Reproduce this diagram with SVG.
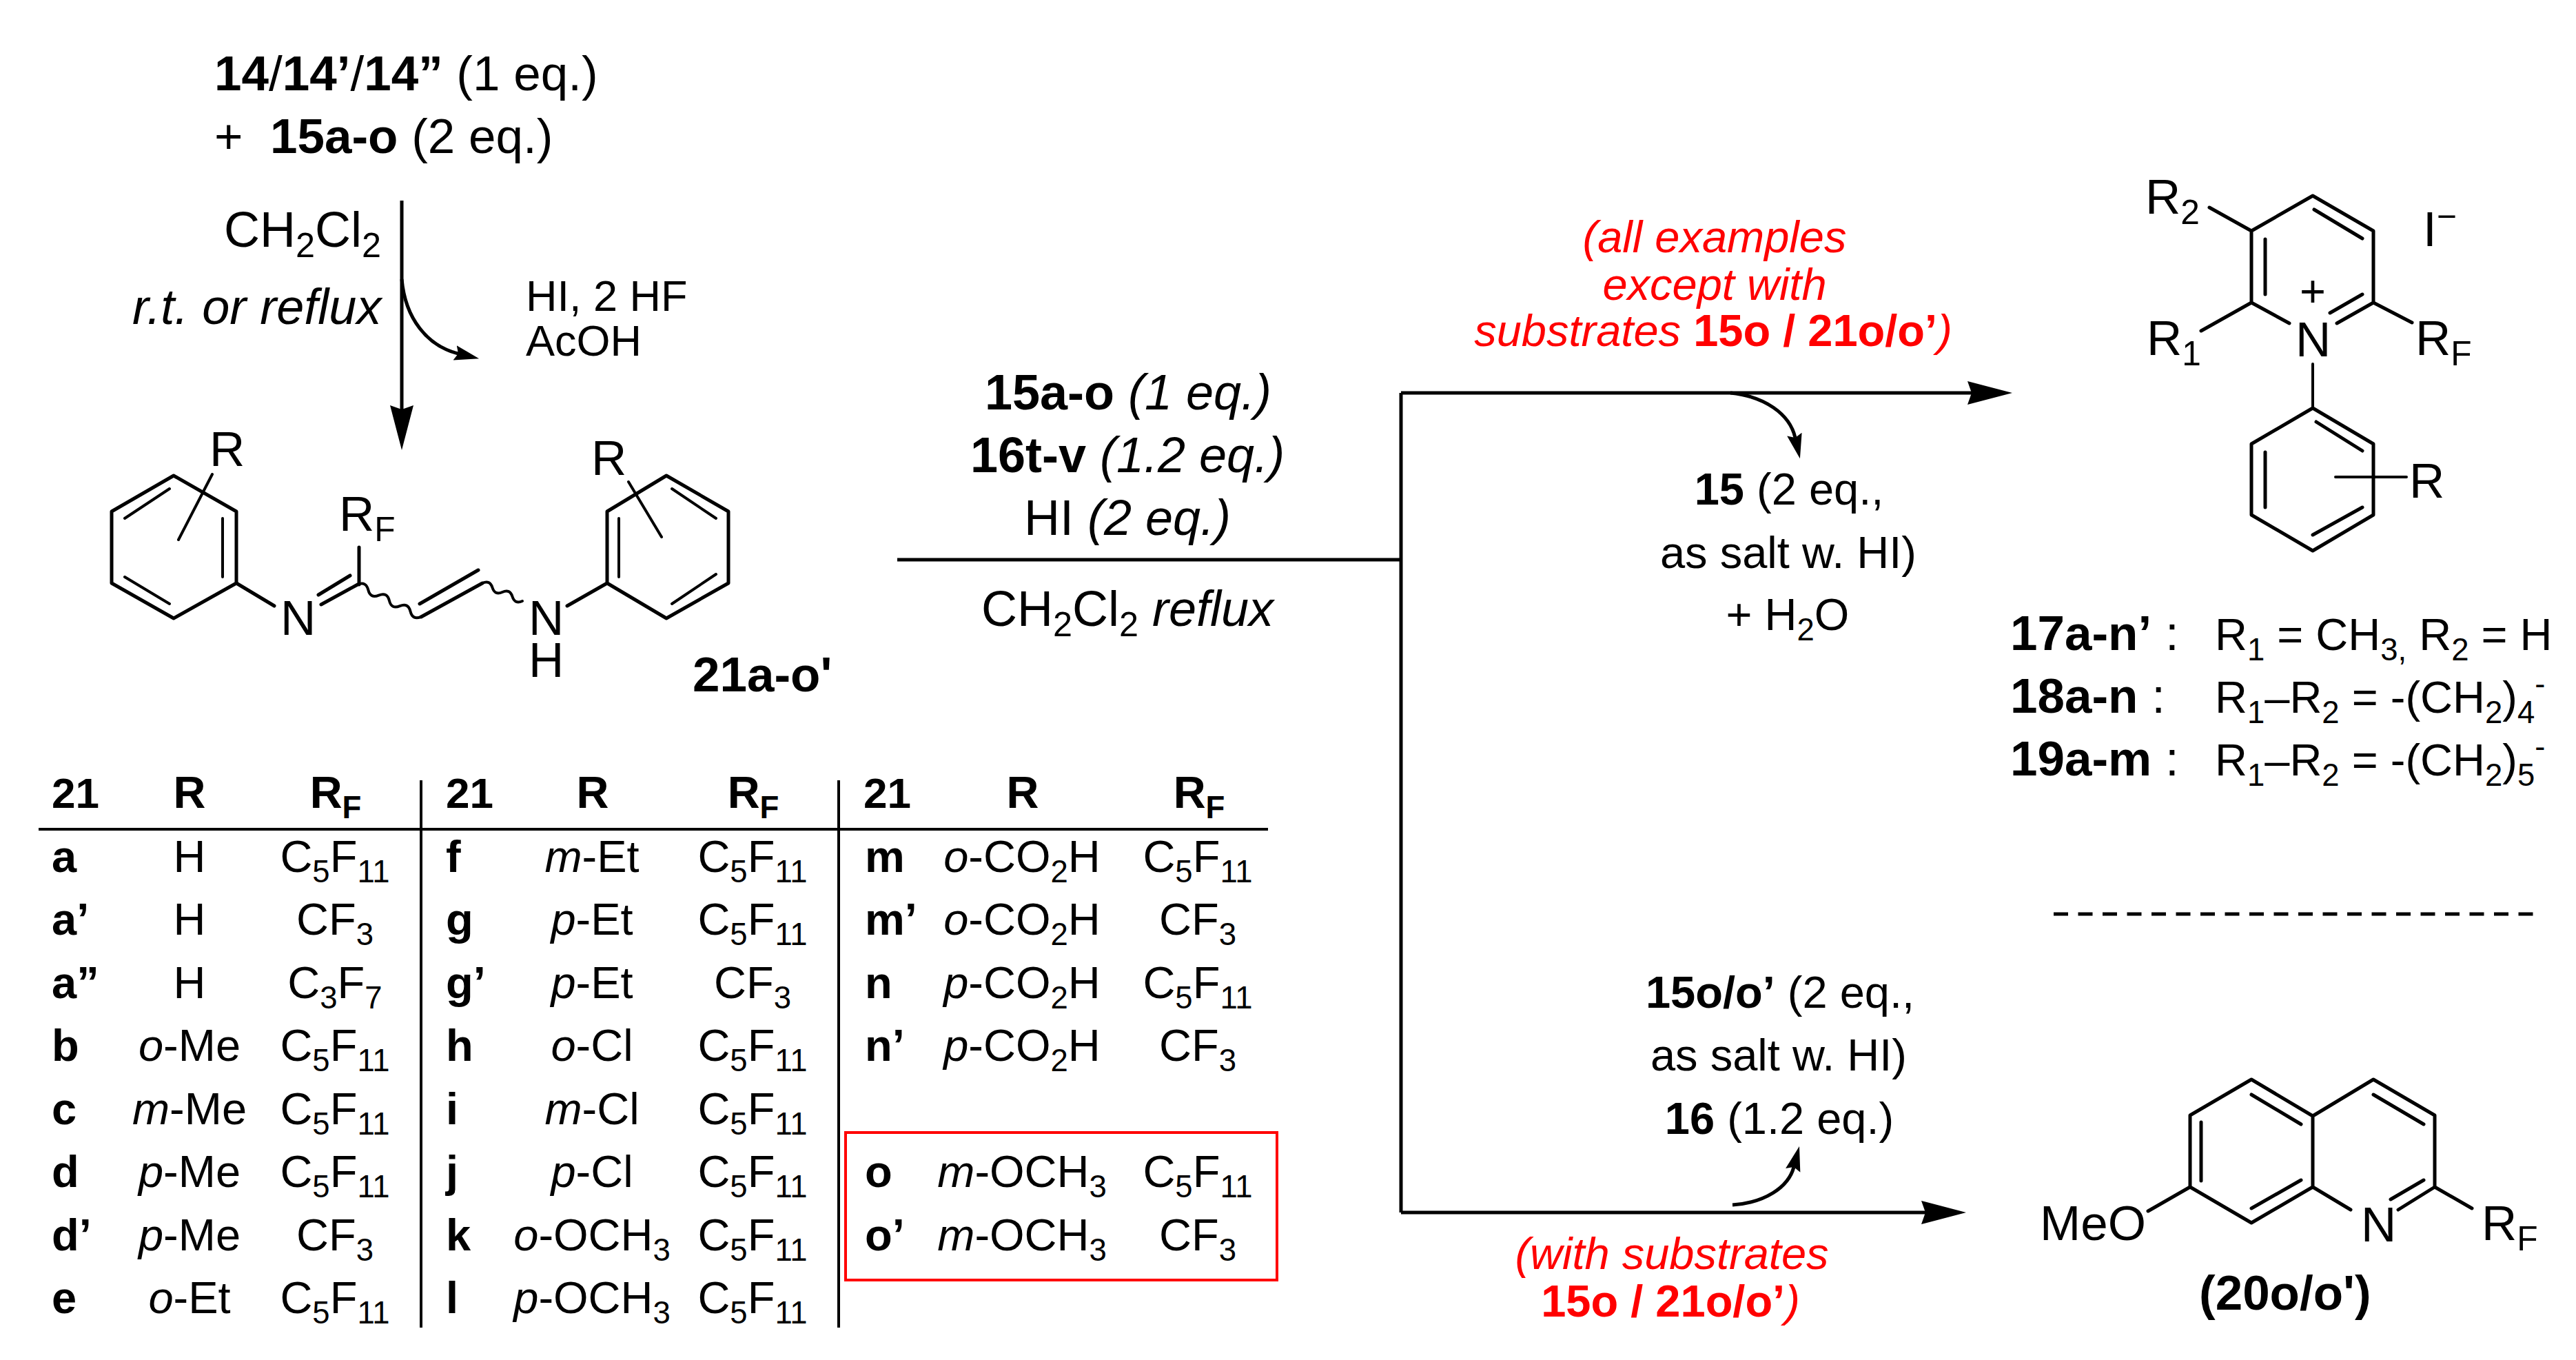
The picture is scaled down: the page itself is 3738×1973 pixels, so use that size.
<svg xmlns="http://www.w3.org/2000/svg" width="3738" height="1973" viewBox="0 0 3738 1973">
<style>
text{font-family:"Liberation Sans",Arial,sans-serif;font-size:65px;fill:#000}
.lg{font-size:72px}.sm{font-size:63px}.xl{font-size:71px}.a{font-size:71px}.hd{font-size:62px}
.b{font-weight:700}.i{font-style:italic}.r{fill:#f00}.m{text-anchor:middle}
.up{font-style:normal;font-weight:700}
.s{font-size:70%;baseline-shift:-15px}.u{font-size:70%;baseline-shift:26px}
.n{font-weight:400}
.bond{fill:none;stroke:#000;stroke-width:5;stroke-linecap:round;stroke-linejoin:round}
.th{fill:none;stroke:#000;stroke-width:4;stroke-linecap:round}
.con{fill:none;stroke:#000;stroke-width:5}
.rule{fill:none;stroke:#000;stroke-width:4}
</style>
<defs>
<marker id="big" markerUnits="userSpaceOnUse" markerWidth="70" markerHeight="40" refX="6" refY="18" orient="auto"><path d="M0 1L65 18L0 35L6 18z"/></marker>
<marker id="sml" markerUnits="userSpaceOnUse" markerWidth="42" markerHeight="28" refX="5" refY="12" orient="auto"><path d="M0 1L36 12L0 23L5 12z"/></marker>
</defs>
<g id="connectors">
<path class="con" d="M583 291V594" marker-end="url(#big)"/>
<path class="con" d="M583 405C588 462 620 502 665 513" marker-end="url(#sml)"/>
<path class="con" d="M1302 812H2033"/>
<path class="con" d="M2033 570V1759"/>
<path class="con" d="M2033 570H2861" marker-end="url(#big)"/>
<path class="con" d="M2033 1759H2794" marker-end="url(#big)"/>
<path class="con" d="M2511 570C2560 575 2597 600 2605 635" marker-end="url(#sml)"/>
<path class="con" d="M2514 1748C2560 1745 2595 1723 2603 1693" marker-end="url(#sml)"/>
</g>
<g id="start-conditions">
<text x="311" y="131" class="xl"><tspan class="b">14</tspan>/<tspan class="b">14’</tspan>/<tspan class="b">14”</tspan> (1 eq.)</text>
<text x="311" y="222" class="xl">+<tspan x="392" class="b">15a-o</tspan> (2 eq.)</text>
<text x="325" y="358" class="lg">CH<tspan class="s">2</tspan>Cl<tspan class="s">2</tspan></text>
<text x="192" y="470" class="lg i">r.t. or reflux</text>
<text x="763" y="451" class="sm">HI, 2 HF</text>
<text x="763" y="516" class="sm">AcOH</text>
</g>
<g id="compound-21">
<path class="bond" d="M252 690L343 742V846L252 897L162 846V742Z"/>
<path class="th" d="M323 752V837M246 709L181 752M181 837L246 876"/>
<path class="th" d="M308 688L259 783"/>
<path class="bond" d="M343 846L398 879M519 848L466 877"/>
<path class="bond" d="M462 863L508 835M521 794V848"/>
<path class="th" d="M519 848q12.2-5 15.3 7.8q3.1 12.8 15.3 7.8q12.2-5 15.3 7.8q3.1 12.8 15.3 7.8q12.2-5 15.3 7.8q3.1 12.8 15.3 7.8"/>
<path class="bond" d="M611 895L700 846M609 876L694 827"/>
<path class="th" d="M700 846q10.950-4.950 14.5 6.5q3.550 11.450 14.5 6.5q10.950-4.950 14.5 6.5q3.550 11.450 14.500 6.500"/>
<path class="bond" d="M823 879L881 846M881 846L967 897L1057 846V742L967 690L881 742Z"/>
<path class="th" d="M898 752V837M975 709L1039 752M1039 833L975 876M912 699L960 779"/>
<text x="304" y="676" class="a">R</text>
<text x="407" y="921" class="a">N</text>
<text x="492" y="770" class="a">R<tspan class="s">F</tspan></text>
<text x="767" y="921" class="a">N</text>
<text x="767" y="982" class="a">H</text>
<text x="858" y="689" class="a">R</text>
<text x="1005" y="1003" class="b xl">21a-o'</text>
</g>
<g id="middle-conditions">
<text x="1637" y="594" class="m lg"><tspan class="b">15a-o</tspan> <tspan class="i">(1 eq.)</tspan></text>
<text x="1636" y="685" class="m lg"><tspan class="b">16t-v</tspan> <tspan class="i">(1.2 eq.)</tspan></text>
<text x="1636" y="776" class="m lg">HI <tspan class="i">(2 eq.)</tspan></text>
<text x="1636" y="908" class="m lg">CH<tspan class="s">2</tspan>Cl<tspan class="s">2</tspan> <tspan class="i">reflux</tspan></text>
</g>
<g id="upper-conditions">
<text x="2488" y="366" class="m i r">(all examples</text>
<text x="2488" y="435" class="m i r">except with</text>
<text x="2486" y="502" class="m i r">substrates <tspan class="up">15o / 21o/o’</tspan>)</text>
<text x="2596" y="732" class="m"><tspan class="b">15</tspan> (2 eq.,</text>
<text x="2595" y="824" class="m">as salt w. HI)</text>
<text x="2594" y="914" class="m">+ H<tspan class="s">2</tspan>O</text>
</g>
<g id="compound-17-19">
<path class="bond" d="M3267 335L3356 284L3444 335V439M3267 335V439M3287 347V427M3358 304L3428 346M3428 427L3381 454M3444 439L3391 469M3267 439L3322 469M3206 301L3267 335M3194 480L3267 439M3444 439L3500 468"/>
<path class="th" d="M3356 528V592M3389 692H3492"/>
<path class="bond" d="M3356 592L3444 644V747L3356 799L3267 747V644ZM3361 612L3428 654M3287 656V736M3428 736L3356 776"/>
<text x="3331" y="517" class="a">N</text>
<text x="3337" y="445">+</text>
<text x="3113" y="310" class="a">R<tspan class="s">2</tspan></text>
<text x="3115" y="515" class="a">R<tspan class="s">1</tspan></text>
<text x="3505" y="515" class="a">R<tspan class="s">F</tspan></text>
<text x="3516" y="357" class="a">I<tspan class="u">−</tspan></text>
<text x="3496" y="722" class="a">R</text>
<text x="2917" y="943" class="b xl">17a-n’<tspan class="n"> :</tspan></text>
<text x="3214" y="943">R<tspan class="s">1</tspan> = CH<tspan class="s">3,</tspan> R<tspan class="s">2</tspan> = H</text>
<text x="2917" y="1034" class="b xl">18a-n<tspan class="n"> :</tspan></text>
<text x="3214" y="1034">R<tspan class="s">1</tspan>–R<tspan class="s">2</tspan> = -(CH<tspan class="s">2</tspan>)<tspan class="s">4</tspan><tspan class="u">-</tspan></text>
<text x="2917" y="1125" class="b xl">19a-m<tspan class="n"> :</tspan></text>
<text x="3214" y="1125">R<tspan class="s">1</tspan>–R<tspan class="s">2</tspan> = -(CH<tspan class="s">2</tspan>)<tspan class="s">5</tspan><tspan class="u">-</tspan></text>
</g>
<path id="separator" d="M2980 1326H3683" fill="none" stroke="#000" stroke-width="5" stroke-dasharray="21 14.500"/>
<g id="lower-conditions">
<text x="2583" y="1462" class="m"><tspan class="b">15o/o’</tspan> (2 eq.,</text>
<text x="2581" y="1553" class="m">as salt w. HI)</text>
<text x="2582" y="1645" class="m"><tspan class="b">16</tspan> (1.2 eq.)</text>
<text x="2426" y="1841" class="m i r">(with substrates</text>
<text x="2424" y="1910" class="m i r"><tspan class="up">15o / 21o/o’</tspan>)</text>
</g>
<g id="compound-20">
<path class="bond" d="M3178 1618L3267 1566L3356 1619V1722L3267 1774L3178 1722ZM3356 1619L3444 1566L3533 1618V1722M3194 1628V1713M3267 1588L3339 1631M3339 1712L3267 1753M3444 1588L3517 1631M3356 1722L3411 1755M3533 1722L3480 1755M3517 1712L3469 1740M3533 1722L3587 1753M3117 1757L3178 1722"/>
<text x="3426" y="1801" class="a">N</text>
<text x="2960" y="1799" class="a">MeO</text>
<text x="3601" y="1799" class="a">R<tspan class="s">F</tspan></text>
<text x="3191" y="1900" class="b xl">(20o/o')</text>
</g>
<g id="table">
<path class="rule" d="M56 1203H1840" stroke-width="5"/>
<path class="rule" d="M611 1132V1926M1217 1132V1926"/>
<rect x="1227" y="1643" width="626" height="214" fill="none" stroke="#f00" stroke-width="4"/>
<g class="b">
<text x="75" y="1172" class="hd">21</text><text x="275" y="1172" class="m">R</text><text x="487" y="1172" class="m">R<tspan class="s">F</tspan></text>
<text x="647" y="1172" class="hd">21</text><text x="860" y="1172" class="m">R</text><text x="1093" y="1172" class="m">R<tspan class="s">F</tspan></text>
<text x="1253" y="1172" class="hd">21</text><text x="1484" y="1172" class="m">R</text><text x="1740" y="1172" class="m">R<tspan class="s">F</tspan></text>
<text x="75" y="1265">a</text><text x="75" y="1356">a’</text><text x="75" y="1448">a”</text><text x="75" y="1539">b</text><text x="75" y="1631">c</text><text x="75" y="1722">d</text><text x="75" y="1814">d’</text><text x="75" y="1905">e</text>
<text x="647" y="1265">f</text><text x="647" y="1356">g</text><text x="647" y="1448">g’</text><text x="647" y="1539">h</text><text x="647" y="1631">i</text><text x="647" y="1722">j</text><text x="647" y="1814">k</text><text x="647" y="1905">l</text>
<text x="1255" y="1265">m</text><text x="1255" y="1356">m’</text><text x="1255" y="1448">n</text><text x="1255" y="1539">n’</text><text x="1255" y="1722">o</text><text x="1255" y="1814">o’</text>
</g>
<g>
<text x="275" y="1265" class="m">H</text><text x="275" y="1356" class="m">H</text><text x="275" y="1448" class="m">H</text>
<text x="275" y="1539" class="m"><tspan class="i">o</tspan>-Me</text><text x="275" y="1631" class="m"><tspan class="i">m</tspan>-Me</text><text x="275" y="1722" class="m"><tspan class="i">p</tspan>-Me</text><text x="275" y="1814" class="m"><tspan class="i">p</tspan>-Me</text><text x="275" y="1905" class="m"><tspan class="i">o</tspan>-Et</text>
<text x="486" y="1265" class="m">C<tspan class="s">5</tspan>F<tspan class="s">11</tspan></text><text x="486" y="1356" class="m">CF<tspan class="s">3</tspan></text><text x="486" y="1448" class="m">C<tspan class="s">3</tspan>F<tspan class="s">7</tspan></text>
<text x="486" y="1539" class="m">C<tspan class="s">5</tspan>F<tspan class="s">11</tspan></text><text x="486" y="1631" class="m">C<tspan class="s">5</tspan>F<tspan class="s">11</tspan></text><text x="486" y="1722" class="m">C<tspan class="s">5</tspan>F<tspan class="s">11</tspan></text><text x="486" y="1814" class="m">CF<tspan class="s">3</tspan></text><text x="486" y="1905" class="m">C<tspan class="s">5</tspan>F<tspan class="s">11</tspan></text>
<text x="859" y="1265" class="m"><tspan class="i">m</tspan>-Et</text><text x="859" y="1356" class="m"><tspan class="i">p</tspan>-Et</text><text x="859" y="1448" class="m"><tspan class="i">p</tspan>-Et</text><text x="859" y="1539" class="m"><tspan class="i">o</tspan>-Cl</text><text x="859" y="1631" class="m"><tspan class="i">m</tspan>-Cl</text><text x="859" y="1722" class="m"><tspan class="i">p</tspan>-Cl</text><text x="859" y="1814" class="m"><tspan class="i">o</tspan>-OCH<tspan class="s">3</tspan></text><text x="859" y="1905" class="m"><tspan class="i">p</tspan>-OCH<tspan class="s">3</tspan></text>
<text x="1092" y="1265" class="m">C<tspan class="s">5</tspan>F<tspan class="s">11</tspan></text><text x="1092" y="1356" class="m">C<tspan class="s">5</tspan>F<tspan class="s">11</tspan></text><text x="1092" y="1448" class="m">CF<tspan class="s">3</tspan></text><text x="1092" y="1539" class="m">C<tspan class="s">5</tspan>F<tspan class="s">11</tspan></text><text x="1092" y="1631" class="m">C<tspan class="s">5</tspan>F<tspan class="s">11</tspan></text><text x="1092" y="1722" class="m">C<tspan class="s">5</tspan>F<tspan class="s">11</tspan></text><text x="1092" y="1814" class="m">C<tspan class="s">5</tspan>F<tspan class="s">11</tspan></text><text x="1092" y="1905" class="m">C<tspan class="s">5</tspan>F<tspan class="s">11</tspan></text>
<text x="1483" y="1265" class="m"><tspan class="i">o</tspan>-CO<tspan class="s">2</tspan>H</text><text x="1483" y="1356" class="m"><tspan class="i">o</tspan>-CO<tspan class="s">2</tspan>H</text><text x="1483" y="1448" class="m"><tspan class="i">p</tspan>-CO<tspan class="s">2</tspan>H</text><text x="1483" y="1539" class="m"><tspan class="i">p</tspan>-CO<tspan class="s">2</tspan>H</text><text x="1483" y="1722" class="m"><tspan class="i">m</tspan>-OCH<tspan class="s">3</tspan></text><text x="1483" y="1814" class="m"><tspan class="i">m</tspan>-OCH<tspan class="s">3</tspan></text>
<text x="1738" y="1265" class="m">C<tspan class="s">5</tspan>F<tspan class="s">11</tspan></text><text x="1738" y="1356" class="m">CF<tspan class="s">3</tspan></text><text x="1738" y="1448" class="m">C<tspan class="s">5</tspan>F<tspan class="s">11</tspan></text><text x="1738" y="1539" class="m">CF<tspan class="s">3</tspan></text><text x="1738" y="1722" class="m">C<tspan class="s">5</tspan>F<tspan class="s">11</tspan></text><text x="1738" y="1814" class="m">CF<tspan class="s">3</tspan></text>
</g>
</g>
</svg>
